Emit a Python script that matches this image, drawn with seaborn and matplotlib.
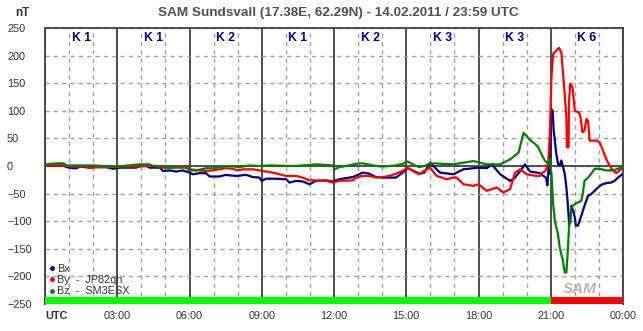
import numpy as np
import pandas as pd
import matplotlib
matplotlib.use("Agg")
import matplotlib.pyplot as plt
from matplotlib.lines import Line2D
import seaborn as sns

# ---------------- data ----------------
bx_t = [0, 0.76, 0.9, 1.17, 1.31, 1.45, 1.86, 2.0, 2.55, 2.83, 3.1, 3.79, 3.93, 4.21, 4.34, 4.76, 4.9,
        5.17, 5.45, 5.72, 6.0, 6.14, 6.41, 6.69, 6.83, 7.24, 7.52, 7.66, 7.94, 8.35, 8.63, 8.9, 9.0,
        9.18, 9.59, 10.01, 10.15, 10.42, 10.7, 10.98, 11.25, 11.67, 11.95, 12.22, 12.5, 12.78, 13.05,
        13.19, 13.47, 13.74, 14.02, 14.3, 14.57, 14.85, 15.06, 15.27, 15.54, 15.75, 15.99, 16.4, 16.96,
        17.37, 18.0, 18.34, 18.55, 18.9, 19.31, 19.52, 19.73, 19.93, 20.14, 20.55, 20.69, 20.8, 20.86,
        20.92, 20.96, 21.02, 21.08, 21.12, 21.17, 21.23, 21.3, 21.37, 21.44, 21.51, 21.58, 21.65, 21.72,
        21.76, 21.81, 21.86, 21.93, 22.0, 22.04, 22.13, 22.2, 22.27, 22.4, 22.55, 22.68, 22.82, 22.96,
        23.1, 23.3, 23.5, 23.65, 23.79, 24.0]
bx_v = [1, 1, -2, -4, -4, -1, -3, -2, -2, -5, -3, -3, 0, 0, -3, -3, -9,
        -8, -10, -8, -12, -15, -13, -13, -19, -19, -16, -17, -18, -16, -20, -21, -27,
        -23, -23, -24, -30, -27, -28, -33, -27, -26, -28, -24, -22, -20, -15,
        -12, -14, -20, -21, -21, -21, -12, -4, -8, -14, -12, 6, -12, -15,
        -6, -3, -4, 3, -15, -27, -21, -9, 3, -10, -13, -18, -21, -35,
        5, -14, 103, 100, 64, 46, 22, 4, 1, 10, -2, -14, -39, -75,
        -105, -102, -72, -81, -93, -108, -108, -99, -90, -72, -54, -51, -45, -39,
        -34, -31, -30, -27, -21, -14]

by_t = [0, 0.76, 0.9, 1.17, 1.72, 1.86, 2.14, 2.83, 3.24, 3.93, 4.07, 4.62, 4.76, 5.31, 5.45, 5.86,
        6.0, 6.41, 6.69, 6.97, 7.24, 7.52, 7.79, 8.0, 8.21, 8.63, 8.9, 9.18, 9.46, 9.73, 10.01, 10.42,
        10.7, 10.98, 11.25, 11.67, 11.95, 12.22, 12.78, 12.91, 13.19, 13.47, 13.74, 14.02, 14.3, 14.57,
        14.85, 15.06, 15.27, 15.54, 15.75, 15.99, 16.26, 16.68, 16.96, 17.1, 17.37, 17.79, 18.0, 18.34,
        18.76, 19.03, 19.31, 19.52, 19.73, 20.0, 20.41, 20.55, 20.68, 20.76, 20.85, 20.9, 20.96, 21.03,
        21.1, 21.23, 21.34, 21.44, 21.5, 21.58, 21.65, 21.67, 21.74, 21.76, 21.81, 21.9, 22.0, 22.17,
        22.24, 22.31, 22.4, 22.48, 22.55, 22.61, 22.9, 23.03, 23.17, 23.3, 23.44, 23.58, 23.72, 23.86,
        24.0]
by_v = [1, 1, 0, -1, -1, -4, -2, -2, -1, -1, 0, 0, -3, -3, -2, -1,
        -6, -8, -9, -8, -6, -4, -5, -8, -6, -6, -8, -10, -12, -15, -18, -18,
        -21, -26, -26, -27, -30, -27, -26, -21, -18, -18, -21, -20, -18, -14,
        -9, -3, -9, -15, -9, -3, -18, -24, -21, -21, -33, -36, -33, -45,
        -39, -48, -42, -12, -6, -15, -18, -18, -11, -10, -2, 10, 58, 161,
        203, 209, 214, 206, 173, 130, 88, 34, 34, 118, 149, 143, 100, 97,
        88, 61, 64, 85, 82, 46, 46, 43, 28, 13, 1, -8, -13, -8,
        -2]

bz_t = [0, 0.21, 0.62, 0.76, 0.9, 2.0, 2.83, 3.24, 3.93, 4.34, 4.48, 4.9, 5.03, 5.86, 6.0, 6.28,
        6.69, 6.97, 7.24, 7.66, 8.07, 8.49, 8.9, 9.32, 10.42, 11.25, 11.95, 12.02, 12.22, 12.5, 12.91,
        13.19, 13.6, 14.02, 14.57, 14.85, 15.06, 15.27, 15.54, 15.82, 15.99, 16.96, 17.79, 18.34, 18.9,
        19.31, 19.66, 19.87, 20.0, 20.14, 20.35, 20.48, 20.61, 20.75, 20.89, 20.96, 21.03, 21.1, 21.17,
        21.23, 21.3, 21.37, 21.44, 21.51, 21.58, 21.65, 21.69, 21.76, 21.86, 22.0, 22.13, 22.27, 22.34,
        22.4, 22.55, 22.68, 22.82, 23.03, 23.3, 23.58, 23.79, 24.0]
bz_v = [2, 4, 5, 5, 1, 1, -1, 0, 3, 3, 0, 0, -3, -3, -8, -8,
        -4, -4, -2, 0, -2, 1, 0, 1, 0, 3, 1, -6, -2, 0, 4,
        5, 1, -1, 1, 4, 8, 3, -2, 1, 5, 3, 9, 3, 3,
        12, 24, 60, 54, 47, 40, 34, 22, 10, 4, 13, -14, -69, -99,
        -111, -123, -147, -160, -172, -193, -193, -166, -111, -75, -69, -66, -63, -48,
        -27, -21, -14, -5, -5, -8, -8, -5, -1]

k_start = [0, 3, 6, 9, 12, 15, 18, 21]
k_index = [1, 1, 2, 1, 2, 3, 3, 6]

tick_hours = [0, 3, 6, 9, 12, 15, 18, 21, 24]
tick_labels = ["UTC", "03:00", "06:00", "09:00", "12:00", "15:00", "18:00", "21:00", "00:00"]

title = "SAM Sundsvall (17.38E, 62.29N) - 14.02.2011 / 23:59 UTC"
legend_labels = ["Bx", "By  -  JP82qh", "Bz  -  SM3ESX"]

# ---------------- style ----------------
sns.set_style("white")
plt.rcParams["font.family"] = ["Liberation Sans", "DejaVu Sans"]
TXT = "#333333"
GRID = "#a0a0a0"
DARK = "#404040"
c_bx, c_by, c_bz = "#000080", "#ff0000", "#008000"
FS = 7.8

fig = plt.figure(figsize=(6.43, 3.31), dpi=100)
W, H = 643, 331
ax = fig.add_axes([45 / W, (H - 304) / H, (623 - 45) / W, (304 - 28) / H])

# grid
ax.set_xlim(0, 24)
ax.set_ylim(-250, 250)
ax.set_xticks(tick_hours)
ax.set_xticks(np.arange(0, 25, 1), minor=True)
ax.set_yticks(np.arange(-250, 251, 50))
ax.grid(which="minor", axis="x", color=GRID, linestyle=(0, (3, 3)), linewidth=1)
ax.grid(which="major", axis="x", color=DARK, linestyle="-", linewidth=1.3)
ax.grid(which="major", axis="y", color=GRID, linestyle=(0, (3, 3)), linewidth=1)
ax.axhline(0, color=DARK, linewidth=1.3, zorder=2)
ax.set_axisbelow(True)

# K-index bar at the bottom
k_colors = ["#00ff00" if k < 5 else "#ff0000" for k in k_index]
ax.bar(k_start, 13, width=3, bottom=-250, align="edge", color=k_colors,
       edgecolor="none", zorder=3)

# series
df = pd.concat([
    pd.DataFrame({"t": bx_t, "v": bx_v, "s": "Bx"}),
    pd.DataFrame({"t": by_t, "v": by_v, "s": "By"}),
    pd.DataFrame({"t": bz_t, "v": bz_v, "s": "Bz"}),
])
sns.lineplot(data=df, x="t", y="v", hue="s", palette={"Bx": c_bx, "By": c_by, "Bz": c_bz},
             hue_order=["Bx", "By", "Bz"], estimator=None, sort=False, linewidth=1.6,
             legend=False, ax=ax, zorder=4)

# K labels
for s, k in zip(k_start, k_index):
    ax.text(s + 1.5, 231, f"K {k}", color="#000080", fontsize=8.8, fontweight="bold",
            ha="center", va="center")

# axes cosmetics
for sp in ax.spines.values():
    sp.set_color(DARK)
    sp.set_linewidth(1.3)
ax.spines["bottom"].set_visible(False)
ax.set_xlabel("")
ax.set_ylabel("")
ax.set_xticklabels(tick_labels)
xl = ax.get_xticklabels()
xl[0].set_fontweight("bold")
xl[0].set_horizontalalignment("left")
ax.tick_params(axis="x", which="both", direction="inout", length=8, color=DARK,
               labelsize=FS, labelcolor=TXT, pad=1)
ax.tick_params(axis="y", direction="inout", length=6, color=DARK, labelsize=FS,
               labelcolor=TXT, pad=24.3)
for t in ax.get_yticklabels():
    t.set_horizontalalignment("left")

# legend
handles = [Line2D([], [], marker="o", markersize=2.5, linestyle="none", color=c)
           for c in (c_bx, c_by, c_bz)]
leg = ax.legend(handles, legend_labels, loc="lower left", bbox_to_anchor=(-0.006, 0.0),
                frameon=False, fontsize=FS, handlelength=0.5, handletextpad=0.25,
                labelspacing=0.12, borderpad=0.2)
for t in leg.get_texts():
    t.set_color(TXT)

# watermark
ax.text(22.2, -222, "SAM", fontsize=11, fontstyle="italic", fontweight="bold",
        color="#a0a0a8", alpha=0.8, ha="center", va="center", zorder=5)

# titles
fig.text(338.5 / W, 1 - 13 / H, title, ha="center", va="center", fontsize=9.7,
         fontweight="bold", color="#505050")
fig.text(15 / W, 1 - 13 / H, "nT", ha="left", va="center", fontsize=8.5,
         fontweight="bold", color=TXT)

fig.savefig("out.png", dpi=100, facecolor="white")
